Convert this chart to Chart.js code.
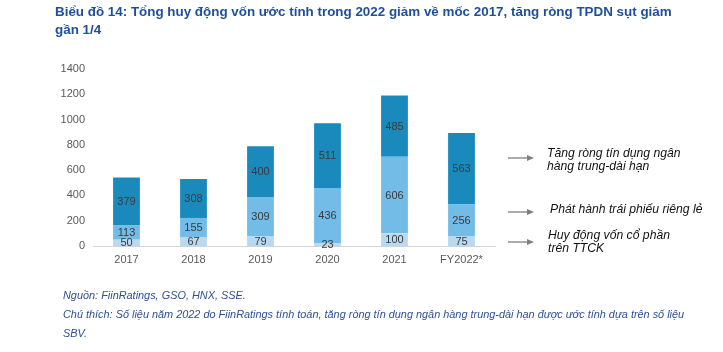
<!DOCTYPE html>
<html>
<head>
<meta charset="utf-8">
<script src="https://cdn.jsdelivr.net/npm/chart.js@4"></script>
<style>
  html, body { margin: 0; padding: 0; background: #fff; }
  #wrap { position: relative; width: 723px; height: 352px; overflow: hidden; }
  canvas { position: absolute; left: 0; top: 0; }
  .t { position: absolute; white-space: nowrap; font-family: "Liberation Sans", Arial, sans-serif; }
  .title { color: #1f4f9a; font-weight: bold; font-size: 13.4px; left: 55px; }
  .note { color: #2f4f96; font-style: italic; font-size: 10.9px; left: 63px; }
  .ann { color: #111; font-style: italic; font-size: 12.2px; line-height: 13px; }
</style>
</head>
<body>
<div id="wrap">
  <canvas id="myChart" width="723" height="352"></canvas>
  <div class="t title" style="top:4px">Biểu đồ 14: Tổng huy động vốn ước tính trong 2022 giảm về mốc 2017, tăng ròng TPDN sụt giảm</div>
  <div class="t title" style="top:22px">gần 1/4</div>
  <div class="t ann" style="left:547px; top:147px">Tăng ròng tín dụng ngân<br>hàng trung-dài hạn</div>
  <div class="t ann" style="left:550px; top:203px">Phát hành trái phiếu riêng lẻ</div>
  <div class="t ann" style="left:548px; top:229px">Huy động vốn cổ phần<br>trên TTCK</div>
  <div class="t note" style="top:289px">Nguồn: FiinRatings, GSO, HNX, SSE.</div>
  <div class="t note" style="top:308px">Chú thích: Số liệu năm 2022 do FiinRatings tính toán, tăng ròng tín dụng ngân hàng trung-dài hạn được ước tính dựa trên số liệu</div>
  <div class="t note" style="top:327px">SBV.</div>
</div>
<script>
// du lieu
const years = ['2017', '2018', '2019', '2020', '2021', 'FY2022*'];
const coPhan = [50, 67, 79, 23, 100, 75];
const traiPhieu = [113, 155, 309, 436, 606, 256];
const tinDung = [379, 308, 400, 511, 485, 563];
const yTicks = [0, 200, 400, 600, 800, 1000, 1200, 1400];

// scrive i valori al centro di ogni segmento
const valueLabels = {
  id: 'valueLabels',
  afterDatasetsDraw(chart) {
    const ctx = chart.ctx;
    ctx.save();
    ctx.font = '11px "Liberation Sans", Arial, sans-serif';
    ctx.fillStyle = '#3a3a3a';
    ctx.textAlign = 'center';
    ctx.textBaseline = 'middle';
    chart.data.datasets.forEach((ds, i) => {
      chart.getDatasetMeta(i).data.forEach((bar, j) => {
        ctx.fillText(ds.data[j], bar.x, (bar.y + bar.base) / 2 + 0.5);
      });
    });
    ctx.restore();
  }
};

// frecce verso le note a destra
const arrows = {
  id: 'arrows',
  afterDraw(chart) {
    const ctx = chart.ctx;
    const ys = [158, 212, 242];
    ctx.save();
    ctx.strokeStyle = '#7f7f7f';
    ctx.fillStyle = '#7f7f7f';
    ctx.lineWidth = 1.3;
    ys.forEach(y => {
      ctx.beginPath();
      ctx.moveTo(508, y);
      ctx.lineTo(529, y);
      ctx.stroke();
      ctx.beginPath();
      ctx.moveTo(534, y);
      ctx.lineTo(527, y - 3);
      ctx.lineTo(527, y + 3);
      ctx.closePath();
      ctx.fill();
    });
    ctx.restore();
  }
};

const ctx = document.getElementById('myChart').getContext('2d');
const data = {
  labels: years,
  datasets: [
    { label: 'Huy động vốn cổ phần trên TTCK', data: coPhan, backgroundColor: '#b9d9f1' },
    { label: 'Phát hành trái phiếu riêng lẻ', data: traiPhieu, backgroundColor: '#74bce8' },
    { label: 'Tăng ròng tín dụng ngân hàng trung-dài hạn', data: tinDung, backgroundColor: '#1a8abd' }
  ]
};

const tickFont = { family: '"Liberation Sans", Arial, sans-serif', size: 11 };

var myChart = new Chart(ctx, {
  type: 'bar',
  data: data,
  options: {
    responsive: false,
    animation: false,
    layout: { padding: { left: 0, top: 69, right: 228, bottom: 84 } },
    datasets: { bar: { categoryPercentage: 1, barPercentage: 0.4 } },
    plugins: { legend: { display: false }, tooltip: { enabled: false } },
    scales: {
      x: {
        stacked: true,
        grid: { display: false, drawTicks: false },
        border: { display: true, color: '#d4d4d4', width: 1 },
        ticks: { color: '#595959', font: tickFont, padding: 7 },
        afterFit: s => { s.height = 22; }
      },
      y: {
        stacked: true,
        min: 0,
        max: 1400,
        grid: { display: false, drawTicks: false },
        border: { display: false },
        afterBuildTicks: s => { s.ticks = yTicks.map(v => ({ value: v })); },
        ticks: { color: '#595959', font: tickFont, padding: 8, callback: v => String(v) },
        afterFit: s => { s.width = 93; }
      }
    }
  },
  plugins: [valueLabels, arrows]
});
</script>
</body>
</html>
